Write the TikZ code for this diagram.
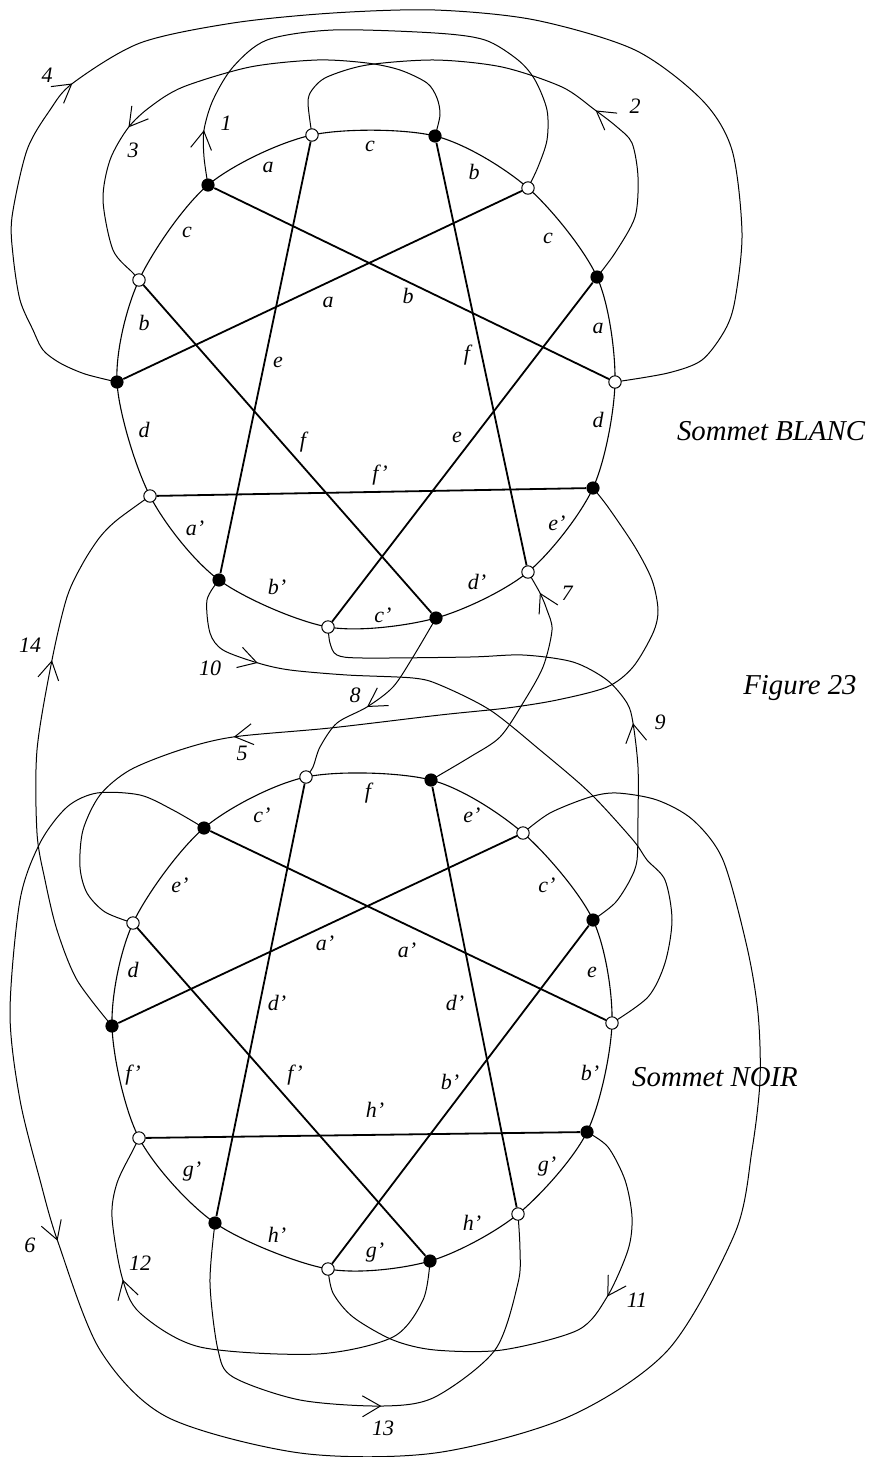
\documentclass[tikz,border=0pt]{standalone}
\usepackage{fontspec}
\setmainfont{Liberation Serif}
\usetikzlibrary{arrows.meta,decorations.markings}
\pgfdeclarelayer{front}
\pgfsetlayers{main,front}
\begin{document}
\begin{tikzpicture}[x=0.5pt,y=-0.5pt,
  wv/.style={circle,draw,fill=white,line width=0.5pt,minimum size=6.2pt,inner sep=0pt},
  bv/.style={circle,fill=black,minimum size=6.6pt,inner sep=0pt},
  rim/.style={line width=0.55pt},
  chord/.style={line width=0.9pt},
  strand/.style={line width=0.5pt},
  flowarrow/.style={postaction={decorate,decoration={markings,
      mark=at position #1 with {\arrow{Straight Barb[length=9pt,width=10.5pt]}}}}},
  lbl/.style={font=\fontsize{11}{13}\selectfont\itshape,inner sep=0pt},
  title/.style={font=\fontsize{14.4}{17}\selectfont\itshape,inner sep=0pt}]
\useasboundingbox (0,0) rectangle (870,1457);

% vertices of the upper (white) disc and the lower (black) disc
\begin{pgfonlayer}{front}
\node[wv] (T0)  at (312,135) {};
\node[bv] (T1)  at (435,136) {};
\node[wv] (T2)  at (528,188) {};
\node[bv] (T3)  at (597,277) {};
\node[wv] (T4)  at (615,382) {};
\node[bv] (T5)  at (593,488) {};
\node[wv] (T6)  at (528,572) {};
\node[bv] (T7)  at (436,618) {};
\node[wv] (T8)  at (328,627) {};
\node[bv] (T9)  at (219,580) {};
\node[wv] (T10) at (150,496) {};
\node[bv] (T11) at (117,382) {};
\node[wv] (T12) at (139,280) {};
\node[bv] (T13) at (208,185) {};

\node[wv] (B0)  at (306,777) {};
\node[bv] (B1)  at (431,780) {};
\node[wv] (B2)  at (523,833) {};
\node[bv] (B3)  at (593,920) {};
\node[wv] (B4)  at (612,1023) {};
\node[bv] (B5)  at (587,1132) {};
\node[wv] (B6)  at (518,1214) {};
\node[bv] (B7)  at (430,1261) {};
\node[wv] (B8)  at (328,1269) {};
\node[bv] (B9)  at (215,1223) {};
\node[wv] (B10) at (139,1138) {};
\node[bv] (B11) at (112,1026) {};
\node[wv] (B12) at (133,923) {};
\node[bv] (B13) at (204,828) {};
\end{pgfonlayer}

% the two rims
\draw[rim] plot[smooth cycle] coordinates {(T0.center) (T1.center) (T2.center) (T3.center) (T4.center) (T5.center) (T6.center) (T7.center) (T8.center) (T9.center) (T10.center) (T11.center) (T12.center) (T13.center)};
\draw[rim] plot[smooth cycle] coordinates {(B0.center) (B1.center) (B2.center) (B3.center) (B4.center) (B5.center) (B6.center) (B7.center) (B8.center) (B9.center) (B10.center) (B11.center) (B12.center) (B13.center)};

% chords
\draw[chord] (T13) -- (T4);
\draw[chord] (T2) -- (T11);
\draw[chord] (T0) -- (T9);
\draw[chord] (T1) -- (T6);
\draw[chord] (T12) -- (T7);
\draw[chord] (T3) -- (T8);
\draw[chord] (T10) -- (T5);
\draw[chord] (B13) -- (B4);
\draw[chord] (B2) -- (B11);
\draw[chord] (B0) -- (B9);
\draw[chord] (B1) -- (B6);
\draw[chord] (B12) -- (B7);
\draw[chord] (B3) -- (B8);
\draw[chord] (B10) -- (B5);

% oriented strands, black vertex to white vertex
\draw[strand,flowarrow=27.6pt] plot[smooth] coordinates {(T13.center) (204,157) (204,130) (213,100) (233,67) (267,40) (333,30) (435,33) (485,40) (518,60) (535,80) (547,110) (547,140) (538,167) (T2.center)};
\draw[strand,flowarrow=97.7pt] plot[smooth] coordinates {(T3.center) (615,253) (635,217) (638,177) (632,143) (617,127) (595,110) (562,87) (502,67) (435,60) (367,65) (327,77) (312,90) (308,103) (T0.center)};
\draw[strand,flowarrow=188.5pt] plot[smooth] coordinates {(T1.center) (440,115) (437,98) (427,83) (400,70) (367,63) (317,60) (250,67) (183,87) (150,107) (128,128) (110,160) (103,200) (113,250) (133,273) (T12.center)};
\draw[strand,flowarrow=185.3pt] plot[smooth] coordinates {(T11.center) (85,374) (60,363) (43,350) (33,330) (20,300) (13,255) (12,217) (27,150) (50,110) (73,83) (140,43) (233,23) (333,13) (435,10) (535,20) (635,50) (702,100) (732,150) (742,233) (735,300) (725,330) (702,360) (668,373) (T4.center)};
\draw[strand,flowarrow=306.9pt] plot[smooth] coordinates {(T5.center) (608,507) (635,547) (652,580) (658,610) (653,633) (633,667) (607,687) (557,700) (507,708) (440,715) (330,728) (233,737) (180,750) (130,770) (100,795) (83,830) (80,867) (87,893) (105,912) (B12.center)};
\draw[strand,flowarrow=300.8pt] plot[smooth] coordinates {(B13.center) (173,810) (140,795) (97,793) (67,807) (40,843) (20,900) (10,1013) (20,1100) (40,1180) (58,1242) (100,1350) (167,1417) (300,1453) (435,1453) (568,1417) (668,1350) (735,1233) (752,1150) (760,1080) (758,1013) (747,947) (723,860) (693,820) (657,800) (617,793) (590,797) (550,813) (B2.center)};
\draw[strand,flowarrow=120.7pt] plot[smooth] coordinates {(B1.center) (470,757) (500,737) (523,703) (543,667) (552,630) (547,610) (540,593) (T6.center)};
\draw[strand,flowarrow=57.1pt] plot[smooth] coordinates {(T7.center) (413,657) (393,687) (367,707) (337,723) (320,747) (313,767) (B0.center)};
\draw[strand,flowarrow=106.9pt] plot[smooth] coordinates {(B3.center) (615,903) (630,880) (637,860) (638,817) (638,767) (633,723) (627,703) (607,680) (573,662) (523,655) (470,657) (363,658) (337,655) (330,643) (T8.center)};
\draw[strand,flowarrow=57.9pt] plot[smooth] coordinates {(T9.center) (207,600) (210,633) (223,650) (258,663) (290,670) (347,675) (413,678) (440,685) (490,710) (540,750) (590,793) (633,840) (647,860) (665,880) (672,920) (665,963) (648,997) (B4.center)};
\draw[strand,flowarrow=92.7pt] plot[smooth] coordinates {(B5.center) (608,1147) (625,1180) (632,1217) (628,1250) (607,1297) (578,1330) (502,1350) (435,1350) (393,1340) (353,1317) (333,1293) (B8.center)};
\draw[strand,flowarrow=195.8pt] plot[smooth] coordinates {(B7.center) (423,1300) (393,1337) (317,1354) (200,1347) (140,1313) (122,1277) (112,1217) (117,1183) (133,1150) (B10.center)};
\draw[strand,flowarrow=156.3pt] plot[smooth] coordinates {(B9.center) (210,1283) (218,1350) (233,1377) (300,1400) (383,1406) (435,1397) (495,1350) (518,1283) (520,1250) (B6.center)};
\draw[strand,flowarrow=192.5pt] plot[smooth] coordinates {(B11.center) (77,980) (57,930) (45,880) (37,833) (37,750) (52,660) (67,597) (83,563) (100,537) (117,520) (T10.center)};

% strand numbers
\node[lbl] (n1)  at (226,123) {1};
\node[lbl] (n2)  at (635,106) {2};
\node[lbl] (n3)  at (133,150) {3};
\node[lbl] (n4)  at (47,75) {4};
\node[lbl] (n5)  at (242,753) {5};
\node[lbl] (n6)  at (30,1245) {6};
\node[lbl] (n7)  at (567,593) {7};
\node[lbl] (n8)  at (355,695) {8};
\node[lbl] (n9)  at (660,722) {9};
\node[lbl] (n10) at (210,668) {10};
\node[lbl] (n11) at (637,1300) {11};
\node[lbl] (n12) at (140,1263) {12};
\node[lbl] (n13) at (383,1428) {13};
\node[lbl] (n14) at (30,645) {14};

% upper disc: rim labels
\node[lbl] (ua1) at (268,167) {a};
\node[lbl] (ua2) at (370,146) {c};
\node[lbl] (ua3) at (474,172) {b};
\node[lbl] (ua4) at (548,238) {c};
\node[lbl] (ua5) at (598,328) {a};
\node[lbl] (ua6) at (598,420) {d};
\node[lbl] (ua7) at (557,523) {e'};
\node[lbl] (ua8) at (477,582) {d'};
\node[lbl] (ua9) at (383,615) {c'};
\node[lbl] (ua10) at (277,587) {b'};
\node[lbl] (ua11) at (195,528) {a'};
\node[lbl] (ua12) at (144,430) {d};
\node[lbl] (ua13) at (144,323) {b};
\node[lbl] (ua14) at (187,232) {c};
% upper disc: chord labels
\node[lbl] (uc1) at (328,302) {a};
\node[lbl] (uc2) at (408,296) {b};
\node[lbl] (uc3) at (278,362) {e};
\node[lbl] (uc4) at (467,355) {f};
\node[lbl] (uc5) at (303,442) {f};
\node[lbl] (uc6) at (457,437) {e};
\node[lbl] (uc7) at (380,475) {f'};

% lower disc: rim labels
\node[lbl] (la1) at (262,815) {c'};
\node[lbl] (la2) at (368,793) {f};
\node[lbl] (la3) at (472,815) {e'};
\node[lbl] (la4) at (547,885) {c'};
\node[lbl] (la5) at (592,972) {e};
\node[lbl] (la6) at (590,1073) {b'};
\node[lbl] (la7) at (547,1167) {g'};
\node[lbl] (la8) at (472,1223) {h'};
\node[lbl] (la9) at (375,1253) {g'};
\node[lbl] (la10) at (277,1235) {h'};
\node[lbl] (la11) at (192,1172) {g'};
\node[lbl] (la12) at (133,1075) {f'};
\node[lbl] (la13) at (133,970) {d};
\node[lbl] (la14) at (180,885) {e'};
% lower disc: chord labels
\node[lbl] (lc1) at (325,943) {a'};
\node[lbl] (lc2) at (407,950) {a'};
\node[lbl] (lc3) at (277,1003) {d'};
\node[lbl] (lc4) at (455,1003) {d'};
\node[lbl] (lc5) at (295,1075) {f'};
\node[lbl] (lc6) at (450,1082) {b'};
\node[lbl] (lc7) at (375,1110) {h'};

% captions
\node[title] (blanc) at (771,431) {Sommet BLANC};
\node[title] (fig)   at (800,688) {Figure 23};
\node[title] (noir)  at (715,1077) {Sommet NOIR};
\end{tikzpicture}
\end{document}
